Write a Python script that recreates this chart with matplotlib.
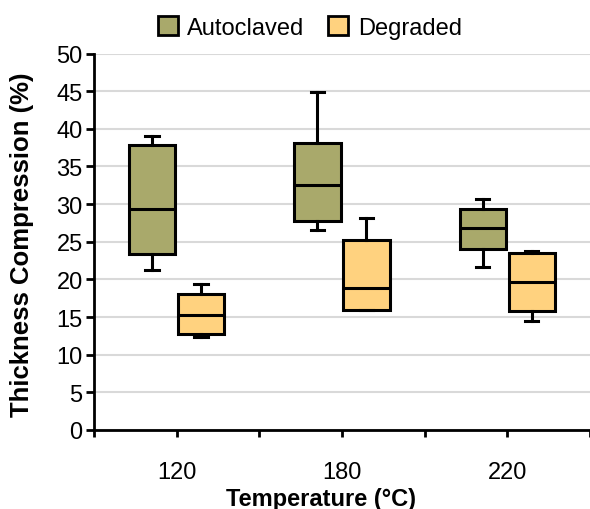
import matplotlib
matplotlib.use("Agg")
import matplotlib.pyplot as plt
from matplotlib.patches import Patch

plt.rcParams["font.family"] = ["Liberation Sans", "DejaVu Sans"]

# data (whisker low, Q1, median, Q3, whisker high)
temps = ["120", "180", "220"]
series = ["Autoclaved", "Degraded"]
auto_stats = [
    (21.2, 23.4, 29.4, 37.9, 39.1),
    (26.6, 27.8, 32.5, 38.1, 44.9),
    (21.6, 24.1, 26.8, 29.4, 30.7),
]
degr_stats = [
    (12.4, 12.7, 15.3, 18.1, 19.4),
    (15.9, 16.0, 18.9, 25.2, 28.2),
    (14.5, 15.8, 19.6, 23.5, 23.8),
]
colors = ["#a9a96b", "#ffd27f"]

fig = plt.figure(figsize=(5.9, 5.1), dpi=100)
ax = fig.add_axes([0.159, 0.155, 0.841, 0.738])

def to_bxp(rows):
    return [dict(whislo=a, q1=b, med=c, q3=d, whishi=e, fliers=[]) for a, b, c, d, e in rows]

pos = range(1, len(temps) + 1)
OFF, W = 0.148, 0.28
for stats, dx, col in [(auto_stats, -OFF, colors[0]), (degr_stats, OFF, colors[1])]:
    ax.bxp(to_bxp(stats), positions=[p + dx for p in pos], widths=W,
           capwidths=0.08, patch_artist=True, showfliers=False,
           boxprops=dict(facecolor=col, edgecolor="black", linewidth=2.2),
           medianprops=dict(color="black", linewidth=2.2),
           whiskerprops=dict(color="black", linewidth=2.2),
           capprops=dict(color="black", linewidth=2.2), zorder=3)

ax.set_xlim(0.5, 3.5)
ax.set_ylim(0, 50)
ax.set_yticks(range(0, 51, 5))
ax.set_xticks([0.5, 1, 1.5, 2, 2.5, 3, 3.5])
ax.set_xticklabels(["", temps[0], "", temps[1], "", temps[2], ""])
ax.yaxis.grid(True, color="#d9d9d9", lw=1.5, zorder=0)
ax.set_axisbelow(True)
for s in ["top", "right"]:
    ax.spines[s].set_visible(False)
for s in ["left", "bottom"]:
    ax.spines[s].set_linewidth(2)
ax.tick_params(axis="both", labelsize=17, width=2, length=6)
ax.tick_params(axis="x", pad=17, length=5)
ax.tick_params(axis="y", pad=2)
ax.set_ylabel("Thickness Compression (%)", fontsize=18.5, fontweight="bold")
ax.yaxis.set_label_coords(-0.12, 0.495)
ax.set_xlabel("Temperature (°C)", fontsize=17, fontweight="bold", labelpad=3, x=0.458)

handles = [Patch(facecolor=c, edgecolor="black", lw=2, label=s) for c, s in zip(colors, series)]
fig.legend(handles=handles, loc="upper center", bbox_to_anchor=(0.525, 1.008), ncol=2,
           frameon=False, fontsize=17, handlelength=0.85, handleheight=0.85,
           columnspacing=1.0, handletextpad=0.4)

fig.savefig("out.png", dpi=100, facecolor="white")
